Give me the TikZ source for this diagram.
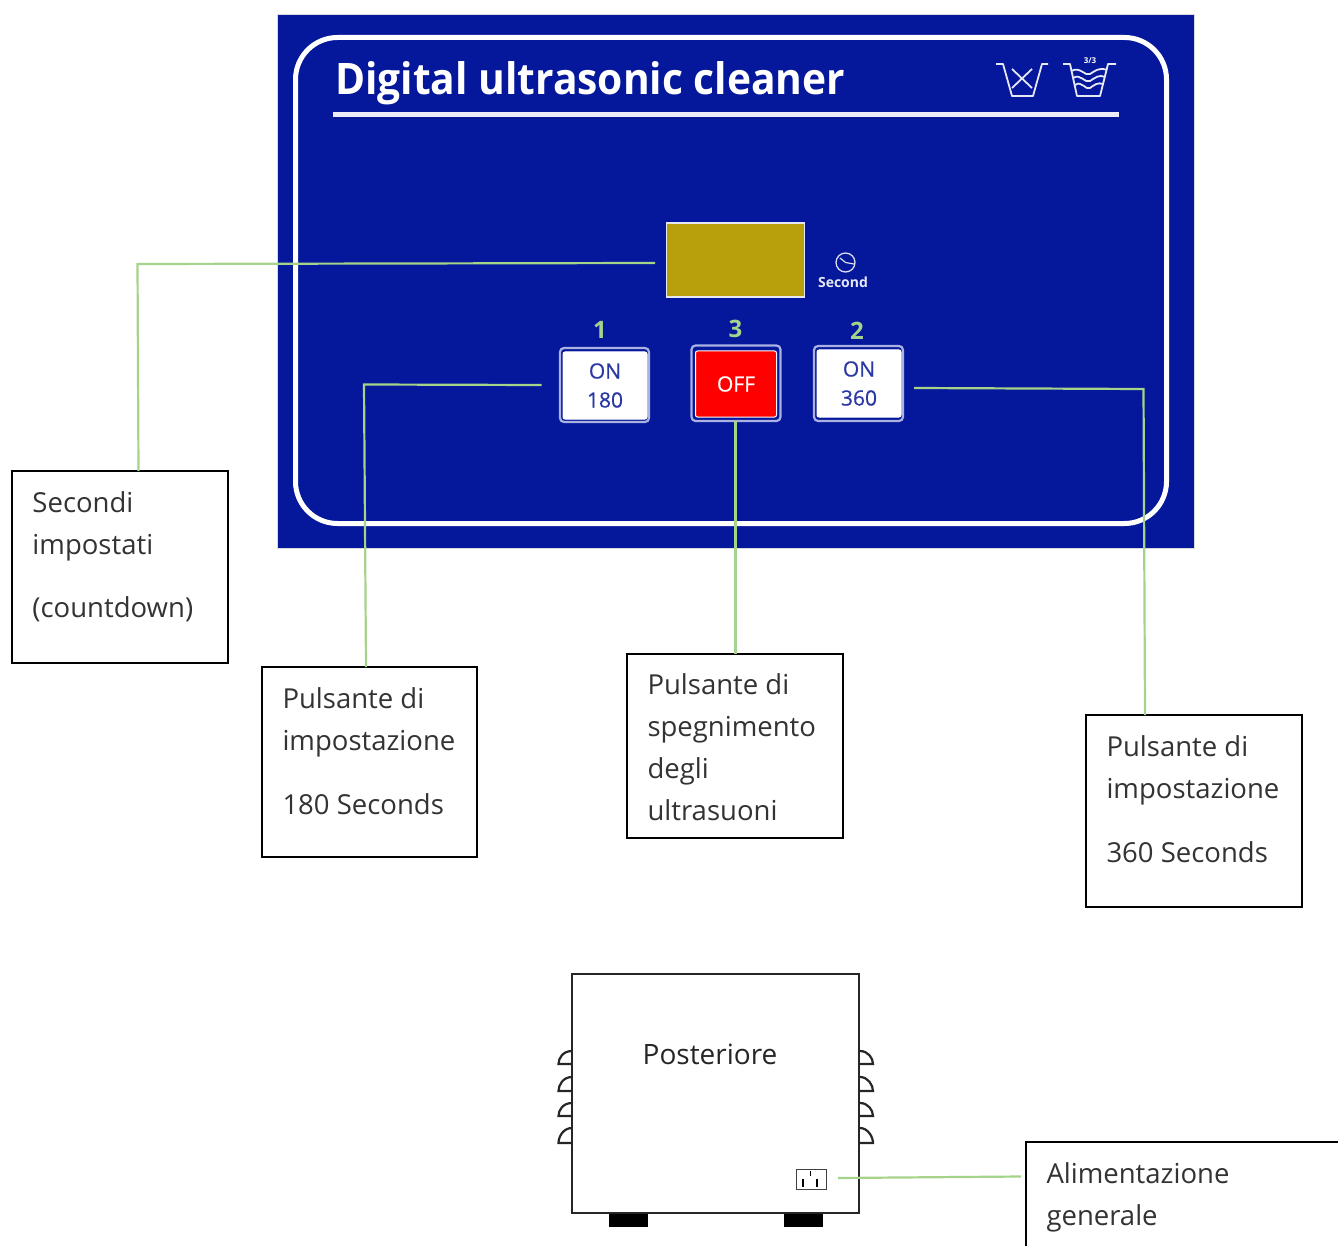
\documentclass[tikz,border=0pt]{standalone}
\usepackage{fontspec}
\setmainfont{Open Sans}
\newfontfamily\titlefont{Open Sans}
\newfontfamily\btnfont[FakeBold=0.6]{Open Sans}
\usetikzlibrary{calc}
\definecolor{panelblue}{HTML}{05179B}
\definecolor{dispgold}{HTML}{B8A00C}
\definecolor{leaf}{HTML}{A6D38A}
\definecolor{btnedge}{HTML}{A9B2E0}
\definecolor{btntext}{HTML}{2A38A4}
\definecolor{bodytext}{HTML}{333333}
\newcommand{\calloutbody}[3]{\parbox[c][#1pt][t]{#2pt}{\raggedright\leftskip=20.5pt\fontsize{27.5}{42}\selectfont\color{bodytext}#3}}
\tikzset{
  x=1pt,y=-1pt,
  callout/.style={draw=black,line width=2pt,fill=white,inner sep=0pt,outer sep=0pt,anchor=north west},
  leader/.style={draw=leaf,line width=2.2pt},
  btnouter/.style={draw=btnedge,line width=2.2pt,rounded corners=4pt},
  btninner/.style={draw=white,line width=1pt,rounded corners=2pt,inner sep=0pt,outer sep=0pt,anchor=north west,align=center,font=\btnfont\fontsize{21}{29}\selectfont},
  num/.style={text=leaf,font=\fontsize{24}{24}\selectfont\bfseries,inner sep=0pt},
  icon/.style={draw=white!90!panelblue,line width=1.8pt,line join=round},
  handle/.style={draw=black!85,line width=2.2pt},
  foot/.style={fill=black,draw=none},
}
\begin{document}
\begin{tikzpicture}
\useasboundingbox (0,0) rectangle (1338,1246);
\clip (0,0) rectangle (1338,1246);
% panel
\fill[panelblue,draw=black!15,line width=1pt] (277.5,14.5) rectangle (1194,548);
\draw[white,line width=5pt,rounded corners=42pt] (295.5,37.5) rectangle (1166.5,523.5);
\node[anchor=base west,inner sep=0pt,text=white] (title) at (335,95) {\resizebox{510pt}{33pt}{\titlefont\bfseries\fontsize{40}{40}\selectfont Digital ultrasonic cleaner}};
\draw[white!92!panelblue,line width=5pt] (332.5,115) -- (1119,115);
% wash icons
\draw[icon] (996,64) -- (1003,64) -- (1012,96) -- (1033,96) -- (1042,64) -- (1048,64);
\draw[icon] (1012,69) -- (1032,88) (1032,69) -- (1012,88);
\draw[icon] (1063,64) -- (1070,64) -- (1077,96) -- (1100,96) -- (1108,64) -- (1116,64);
\draw[icon] (1071,71) .. controls (1081,66) and (1085,77) .. (1090,74) .. controls (1095,71) and (1099,67) .. (1107,70);
\draw[icon] (1073,78) .. controls (1081,73) and (1085,84) .. (1090,81) .. controls (1095,78) and (1099,74) .. (1105,77);
\draw[icon] (1075,85) .. controls (1082,80) and (1086,91) .. (1090,88) .. controls (1094,85) and (1098,82) .. (1103,84);
\node[inner sep=0pt,text=white,font=\fontsize{8}{8}\selectfont\bfseries] (fill) at (1090,60.5) {3/3};
% display
\node[draw=white!90!panelblue,line width=1.5pt,fill=dispgold,inner sep=0pt,outer sep=0pt,minimum width=138pt,minimum height=74pt,anchor=north west] (display) at (666.5,223) {};
\node[draw=white!85!panelblue,circle,line width=1.3pt,minimum size=19pt,inner sep=0pt] (clock) at (845.5,262.5) {};
\draw[white!85!panelblue,line width=1.2pt] (clock.center) -- (854,264) (clock.center) -- (840,258);
\node[inner sep=0pt,text=white!90!panelblue,font=\fontsize{14}{14}\selectfont\bfseries] (secondlabel) at (843,282) {Second};
% numbers
\node[num] (n1) at (600,330) {1};
\node[num] (n3) at (735.5,329) {3};
\node[num] (n2) at (857,331) {2};
% buttons
\draw[btnouter] (560,348) rectangle (649,422);
\node[btninner,fill=white,text=btntext,minimum width=84pt,minimum height=67pt] (b1) at (563,352) {ON\\180};
\draw[btnouter] (691.5,345.5) rectangle (780.5,421);
\node[btninner,fill=red,text=white,minimum width=81pt,minimum height=66pt] (b3) at (695.5,351) {OFF};
\draw[btnouter] (814,346) rectangle (903,421);
\node[btninner,fill=white,text=btntext,minimum width=84pt,minimum height=67pt] (b2) at (817,350) {ON\\360};
% callouts
\node[callout] (c1) at (12,471) {\calloutbody{192}{216}{\rule{0pt}{41pt}Secondi\\impostati\\[21pt](countdown)}};
\node[callout] (c2) at (262,667) {\calloutbody{190}{215}{\rule{0pt}{41pt}Pulsante di\\impostazione\\[22pt]180 Seconds}};
\node[callout] (c3) at (627,654) {\calloutbody{184}{216}{\rule{0pt}{40pt}Pulsante di\\spegnimento\\degli\\ultrasuoni}};
\node[callout] (c4) at (1086,715) {\calloutbody{192}{216}{\rule{0pt}{41pt}Pulsante di\\impostazione\\[22pt]360 Seconds}};
\node[callout] (c5) at (1026,1142) {\calloutbody{130}{330}{\rule{0pt}{41pt}Alimentazione\\generale}};
% rear unit
\node[draw=black!85,line width=2.6pt,fill=white,inner sep=0pt,outer sep=0pt,minimum width=287pt,minimum height=239pt,anchor=north west] (rear) at (572,974) {};
\node[anchor=base,inner sep=0pt,text=black!85,font=\fontsize{28}{30}\selectfont] (rearlabel) at (710,1064) {Posteriore};
\node[foot,minimum width=39pt,minimum height=13.5pt,inner sep=0pt,anchor=north west] (f1) at (609,1213.5) {};
\node[foot,minimum width=39pt,minimum height=13.5pt,inner sep=0pt,anchor=north west] (f2) at (784,1213.5) {};
\foreach \t/\b in {1051/1064,1077/1091,1103/1116,1128/1143}{
  \draw[handle] (572,\t) .. controls (563,\t) and (558.5,\b-6) .. (558.5,\b) -- (572,\b);
  \draw[handle] (860,\t) .. controls (868,\t) and (873,\b-6) .. (873,\b) -- (860,\b);
}
\node[draw=black!75,line width=1pt,fill=white,inner sep=0pt,outer sep=0pt,minimum width=30pt,minimum height=20pt,anchor=north west] (outlet) at (796,1169) {};
\draw[black,line width=1.8pt] (803,1179) -- (803,1187) (817,1179) -- (817,1187);
\draw[black,line width=1pt] (810,1171) -- (810,1176);
% leaders
\coordinate (d1) at (655,263);
\coordinate (e1) at (137.5,264);
\coordinate (t1) at (138.5,471);
\draw[leader] (d1) -- (e1) -- (t1);
\coordinate (d2) at (541.5,385);
\coordinate (e2) at (364,384.5);
\coordinate (t2) at (366,667);
\draw[leader] (d2) -- (e2) -- (t2);
\draw[leader] (735.5,421) coordinate (d3) -- (735.5,654) coordinate (t3);
\coordinate (d4) at (914,388);
\coordinate (e4) at (1143.5,389);
\coordinate (t4) at (1145,715);
\draw[leader] (d4) -- (e4) -- (t4);
\coordinate (d5) at (838,1178);
\coordinate (t5) at (1021,1176.5);
\draw[leader] (d5) -- (t5);
\end{tikzpicture}
\end{document}
